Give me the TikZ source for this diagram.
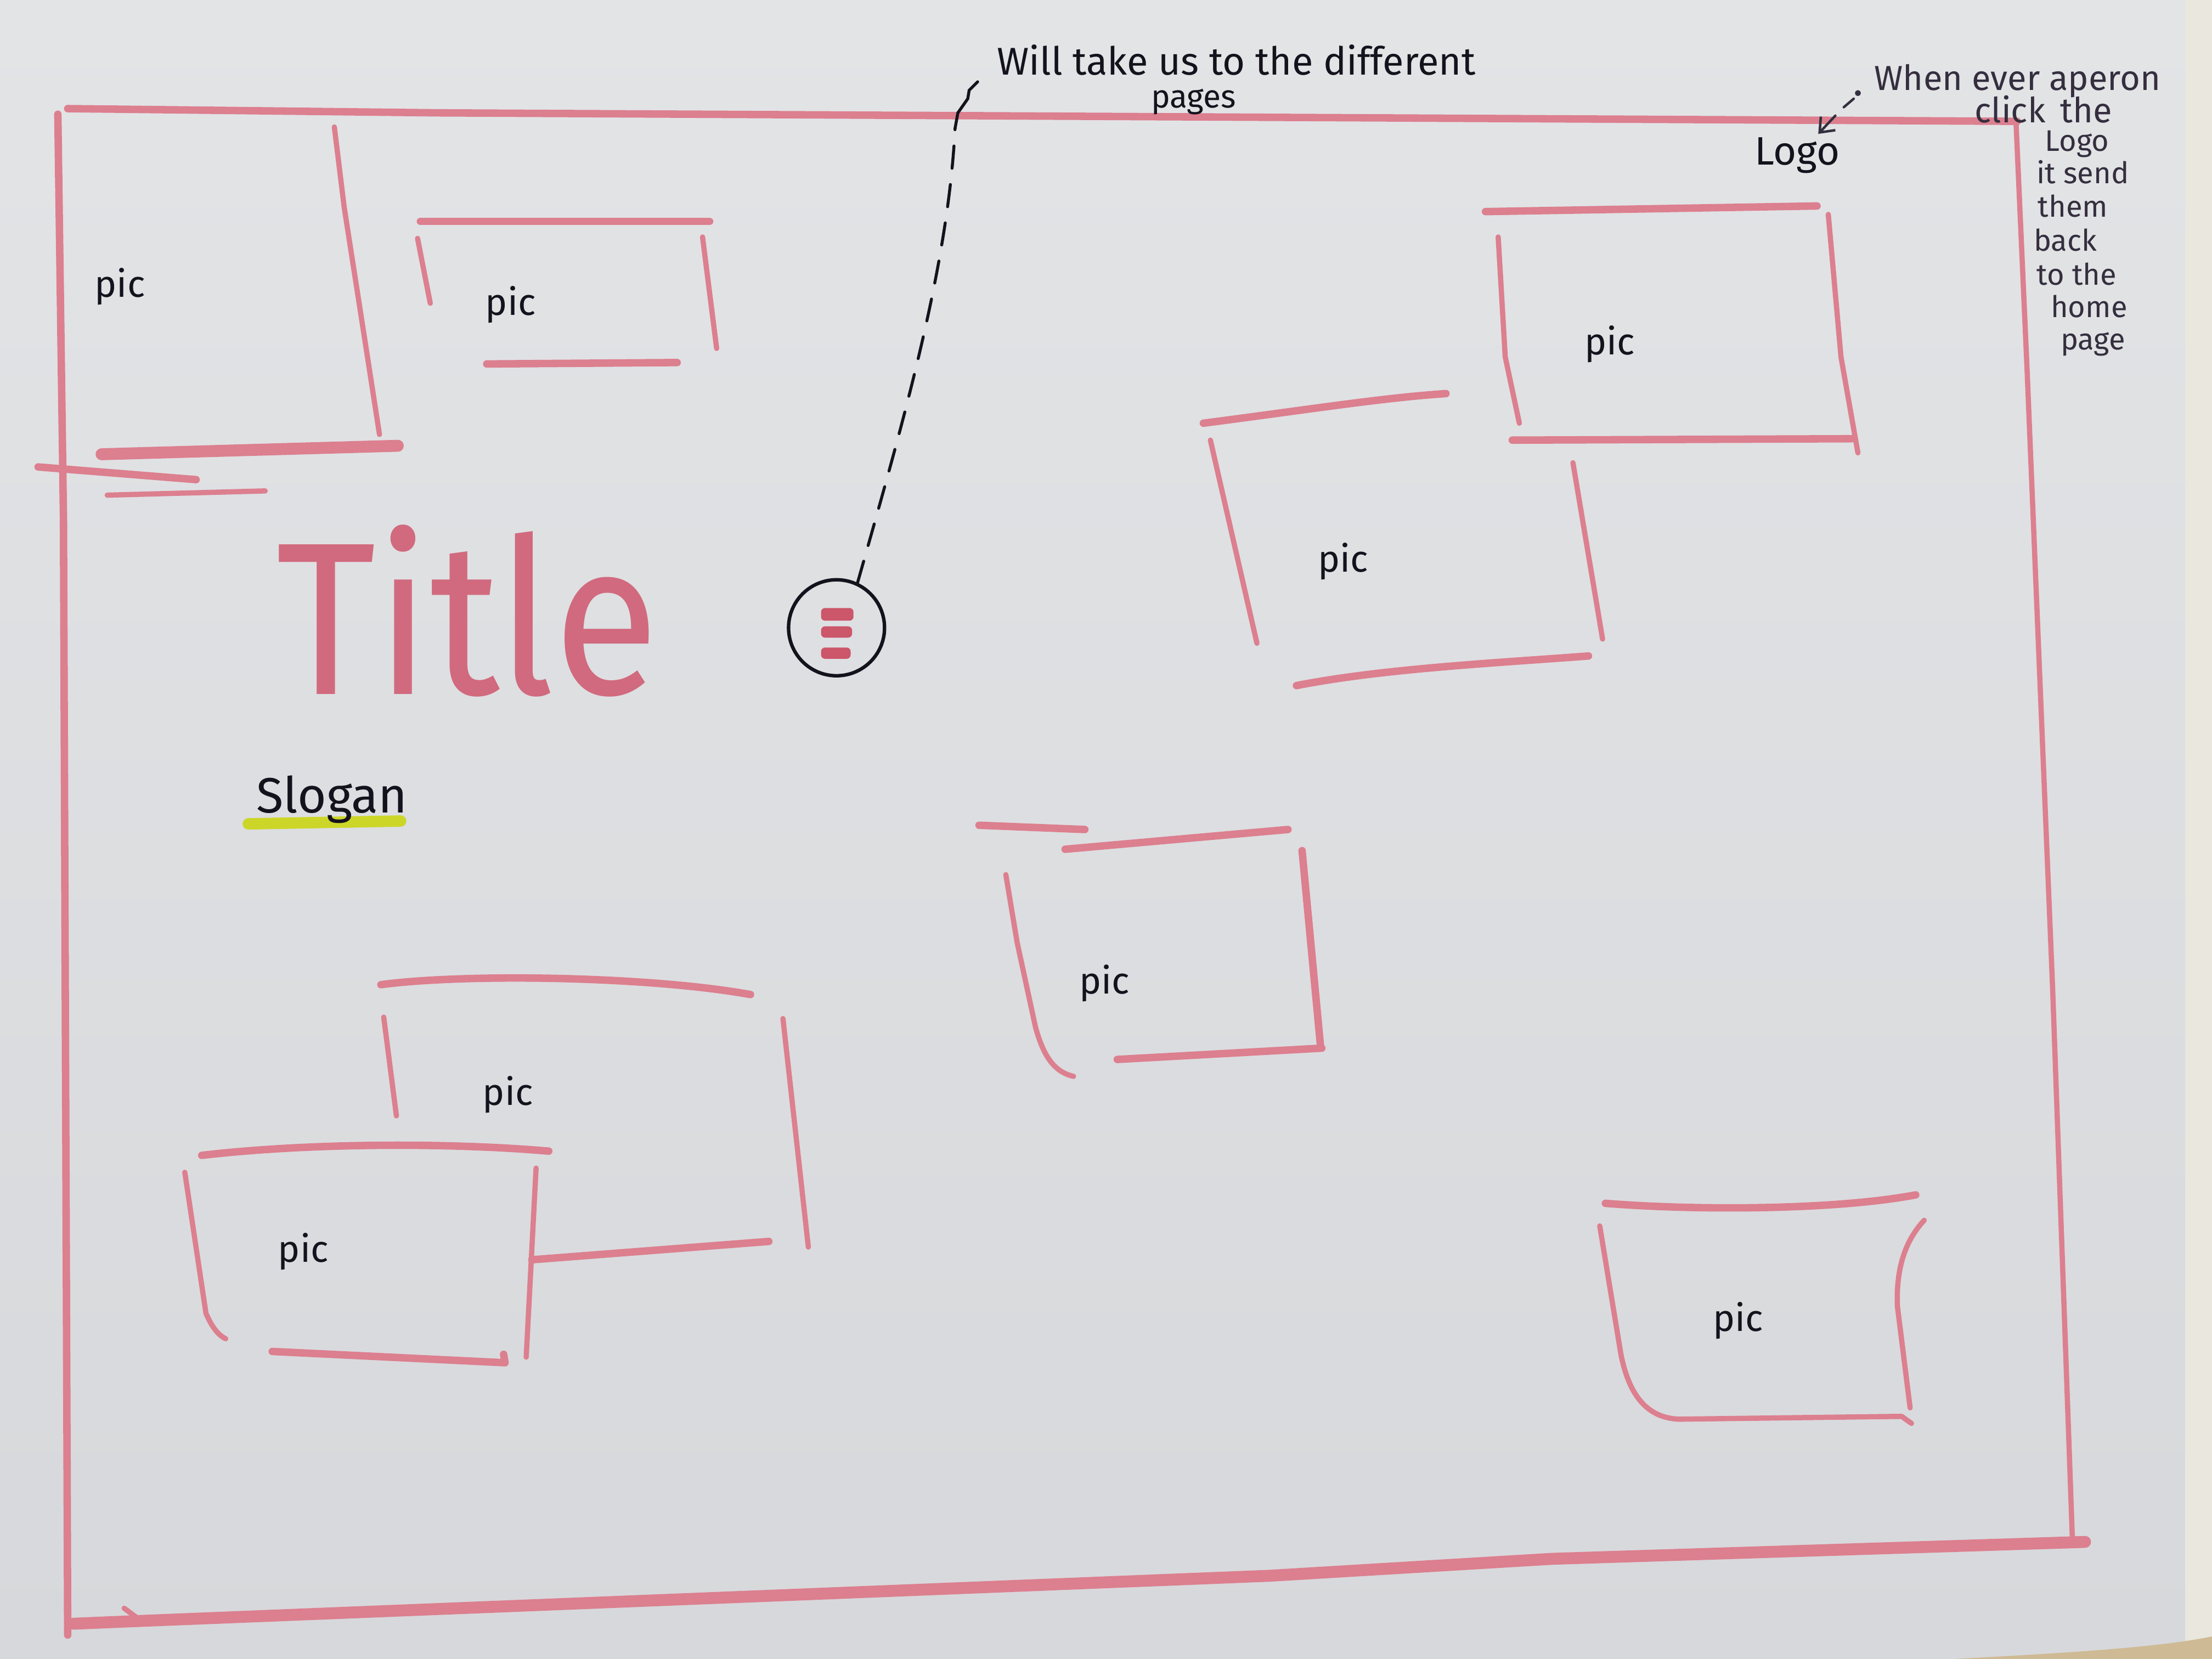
\documentclass[tikz,border=0pt]{standalone}
\usepackage{fontspec}
\setmainfont{Fira Sans}
\usepackage{graphicx}
\usetikzlibrary{arrows.meta}

\definecolor{paper}{RGB}{215,216,219}
\definecolor{papertop}{RGB}{227,228,230}
\definecolor{tableedge}{RGB}{233,231,222}
\definecolor{wood}{RGB}{206,186,148}
\definecolor{marker}{RGB}{220,127,143}
\definecolor{titlepink}{RGB}{209,106,126}
\definecolor{barred}{RGB}{204,86,106}
\definecolor{ink}{RGB}{20,18,28}
\definecolor{pencil}{RGB}{52,46,62}
\definecolor{hilite}{RGB}{204,214,40}

\begin{document}
\begin{tikzpicture}[x=0.01cm,y=-0.01cm,
  pen/.style={draw=marker,line width=1.5pt,line cap=round,line join=round},
  penthin/.style={draw=marker,line width=1.05pt,line cap=round,line join=round},
  penwide/.style={draw=marker,line width=2.4pt,line cap=round,line join=round},
  hand/.style={text=ink,font=\fontsize{7.5}{9}\selectfont,inner sep=0pt},
  note/.style={text=pencil,font=\fontsize{7}{8}\selectfont,inner sep=0pt,anchor=base west},
  notesmall/.style={note,font=\fontsize{6}{7}\selectfont},
  bar/.style={fill=barred,rounded corners=0.8pt},
]
% sheet of paper on the table
\useasboundingbox (0,0) rectangle (1568,1176);
\shade[top color=papertop,bottom color=paper] (0,0) rectangle (1568,1176);
\fill[tableedge] (1549,0) rectangle (1568,1176);
\fill[wood] (1385,1176) .. controls (1460,1172) and (1530,1168) .. (1568,1160) -- (1568,1176) -- cycle;

% outer page frame
\draw[pen] (48,77) -- (311,80) -- (1430,86);
\draw[pen] (41,81) -- (45,369) -- (48,1159);
\draw[penthin] (1429,85) -- (1437,264) -- (1455,700) -- (1469,1090);
\draw[penwide] (52,1151) -- (100,1149) -- (500,1133) -- (900,1117) -- (1100,1105) -- (1478,1093);
\draw[penthin] (88,1140) -- (100,1149);

% top-left picture
\draw[penthin] (237,90) -- (244,147) -- (258,237) -- (269,308);
\draw[penwide] (72,322) -- (282,316);
\draw[pen] (27,331) -- (139,340);
\draw[penthin] (76,351) -- (188,348);
\node[hand] (pic1) at (85,203) {pic};

% small picture beside it
\draw[pen] (298,157) -- (503,157);
\draw[penthin] (296,169) -- (305,215);
\draw[penthin] (498,168) -- (508,247);
\draw[pen] (345,258) -- (480,257);
\node[hand] (pic2) at (362,216) {pic};

% top-right picture
\draw[pen] (1053,150) -- (1288,146);
\draw[penthin] (1062,168) -- (1067,253) -- (1077,300);
\draw[penthin] (1296,152) -- (1305,253) -- (1317,321);
\draw[pen] (1072,312) -- (1313,311);
\node[hand] (pic3) at (1141,244) {pic};

% middle-right picture
\draw[pen] (853,300) .. controls (930,290) and (980,282) .. (1025,279);
\draw[penthin] (858,312) -- (891,456);
\draw[penthin] (1115,328) -- (1136,453);
\draw[pen] (919,486) .. controls (980,474) and (1060,470) .. (1126,465);
\node[hand] (pic4) at (952,398) {pic};

% centre picture
\draw[pen] (694,585) -- (769,588);
\draw[pen] (755,602) -- (913,588);
\draw[penthin] (713,620) -- (721,668) -- (734,728) .. controls (740,750) and (748,760) .. (761,763);
\draw[pen] (923,603) -- (936,741);
\draw[pen] (792,751) -- (937,743);
\node[hand] (pic5) at (783,697) {pic};

% overlapping pictures, bottom left (back one)
\draw[pen] (270,698) .. controls (330,690) and (460,692) .. (532,705);
\draw[penthin] (272,721) -- (281,791);
\draw[penthin] (555,722) -- (573,884);
\draw[pen] (377,893) -- (545,880);
\node[hand] (pic6) at (360,776) {pic};

% overlapping pictures, bottom left (front one)
\draw[pen] (143,819) .. controls (220,810) and (320,810) .. (389,816);
\draw[penthin] (131,831) -- (146,931) .. controls (150,940) and (154,946) .. (160,949);
\draw[penthin] (380,828) -- (373,962);
\draw[pen] (193,958) -- (358,966) -- (357,960);
\node[hand] (pic7) at (215,887) {pic};

% bottom-right picture
\draw[pen] (1138,853) .. controls (1200,858) and (1300,858) .. (1358,847);
\draw[penthin] (1134,869) -- (1149,960) .. controls (1155,990) and (1168,1005) .. (1190,1006) -- (1348,1004) -- (1355,1009);
\draw[penthin] (1364,865) .. controls (1350,880) and (1344,900) .. (1345,926) -- (1354,998);
\node[hand] (pic8) at (1232,936) {pic};

% title and slogan
\node[anchor=base west,text=titlepink,inner sep=0pt] (title) at (195,492) {\resizebox{2.71cm}{1.2cm}{Title}};
\draw[draw=hilite,line width=2.3pt,line cap=round] (176,584) -- (284,582);
\node[hand,anchor=base west,font=\fontsize{10}{12}\selectfont] (slogan) at (181,576) {Slogan};

% menu button
\node[circle,draw=ink,line width=0.7pt,minimum size=0.68cm,inner sep=0pt] (menu) at (593,445) {};
\fill[bar] (582,431) rectangle (605,440);
\fill[bar] (582,444) rectangle (604,452);
\fill[bar] (582,459) rectangle (603,467);

% note about the menu
\node[hand,anchor=base west,font=\fontsize{7.8}{9}\selectfont] (navnote) at (706,53) {Will take us to the different};
\node[hand,font=\fontsize{6.5}{8}\selectfont] (navnote2) at (846,72) {pages};
\coordinate (navtip) at (693,58);
\draw[ink,line width=0.6pt,dash pattern=on 4.5pt off 3.3pt,line cap=round]
  (menu.65) .. controls (640,300) and (672,190) .. (677,91);
\draw[ink,line width=0.6pt,line cap=round] (677,91) -- (679,80) -- (686,70) -- (687,64) -- (navtip);

% logo and its note
\node[hand,anchor=base west,font=\fontsize{8}{10}\selectfont] (logo) at (1243,117) {Logo};
\node[note] (n1) at (1328,64) {When ever aperon};
\node[note] (n2) at (1399,87) {click\, the};
\node[notesmall] (n3) at (1449,107) {Logo};
\node[notesmall] (n4) at (1443,130) {it send};
\node[notesmall] (n5) at (1444,154) {them};
\node[notesmall] (n6) at (1441,178) {back};
\node[notesmall] (n7) at (1443,202) {to the};
\node[notesmall] (n8) at (1453,225) {home};
\node[notesmall] (n9) at (1460,248) {page};
\fill[pencil] ([xshift=-0.11cm,yshift=-0.02cm]n1.base west) circle (0.6pt);
\draw[pencil,line width=0.5pt,line cap=round] (1314,70) -- (1307,76);
\draw[pencil,line width=0.5pt,line cap=round,-{Straight Barb[length=2.5pt,width=4pt]}] (1301,82) -- ([xshift=0.15cm,yshift=0.02cm]logo.north);
\end{tikzpicture}
\end{document}
